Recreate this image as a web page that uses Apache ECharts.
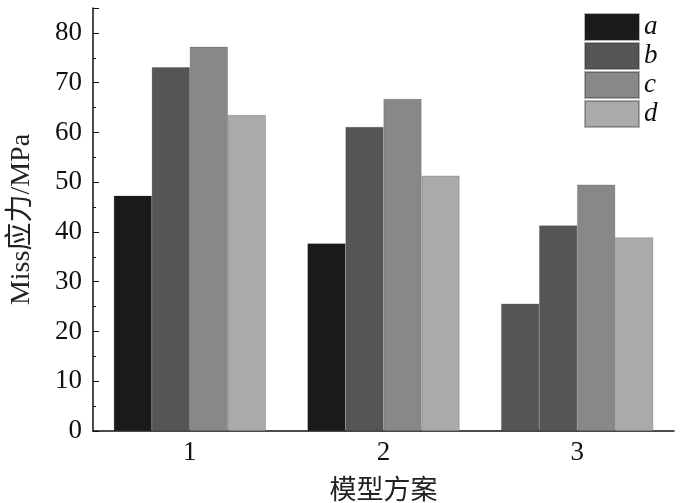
<!DOCTYPE html>
<html>
<head>
<meta charset="utf-8">
<script src="https://cdn.jsdelivr.net/npm/echarts@6/dist/echarts.min.js"></script>
<style>
  html, body { margin: 0; padding: 0; background: #fff; }
  #chart { width: 700px; height: 503px; }
</style>
</head>
<body>
<div id="chart"></div>
<script>
// 模型方案
var categories = ['1', '2', '3']
var seriesNames = ['a', 'b', 'c', 'd']
var valuesA = [47.3, 37.7, 25.6]
var valuesB = [73.1, 61.1, 41.3]
var valuesC = [77.2, 66.7, 49.5]
var valuesD = [63.5, 51.3, 38.9]
var yTicks = [0, 10, 20, 30, 40, 50, 60, 70, 80]

var colors = ['#1a1a1a', '#555555', '#888888', '#aaaaaa']
var serif = '"Liberation Serif", "Times New Roman", "Noto Sans CJK SC", serif'

var allValues = [valuesA, valuesB, valuesC, valuesD]

var chart = echarts.init(document.getElementById('chart'))

var series = seriesNames.map(function(name, i) {
  var data = allValues[i].map(function(v, j) {
    // 原图中方案3的 a 柱用了 b 的颜色
    if (i === 0 && j === 2) {
      return { value: v, itemStyle: { color: colors[1] } }
    }
    return v
  })
  return {
    name: name,
    type: 'bar',
    data: data,
    barGap: '0%',
    barCategoryGap: '21.5%',
    itemStyle: {
      color: colors[i],
      borderColor: 'rgba(40,40,40,0.35)',
      borderWidth: 0.6
    }
  }
})

var option = {
  animation: false,
  backgroundColor: '#fff',
  grid: {
    left: 93,
    right: 26,
    top: 8,
    bottom: 72,
    outerBoundsMode: 'none'
  },
  legend: {
    data: seriesNames,
    orient: 'vertical',
    left: 584,
    top: 13,
    padding: 0,
    itemWidth: 54,
    itemHeight: 26,
    itemGap: 1,
    icon: 'rect',
    textStyle: {
      fontFamily: serif,
      fontStyle: 'italic',
      fontSize: 27,
      lineHeight: 26,
      color: '#111'
    }
  },
  xAxis: {
    type: 'category',
    data: categories,
    name: '模型方案',
    nameLocation: 'middle',
    nameGap: 47,
    nameTextStyle: {
      fontFamily: serif,
      fontSize: 27,
      color: '#222'
    },
    axisLine: { lineStyle: { color: '#111', width: 1.5 } },
    axisTick: { inside: true, length: 5, lineStyle: { color: '#111' } },
    axisLabel: {
      margin: 8,
      fontFamily: serif,
      fontSize: 27,
      color: '#111'
    }
  },
  yAxis: {
    type: 'value',
    min: yTicks[0],
    max: 85,
    interval: 10,
    name: 'Miss应力/MPa',
    nameLocation: 'middle',
    nameGap: 57,
    nameRotate: 90,
    nameTextStyle: {
      fontFamily: serif,
      fontSize: 28,
      color: '#222'
    },
    splitLine: { show: false },
    axisLine: { show: true, lineStyle: { color: '#111', width: 1.5 } },
    axisTick: { show: true, inside: true, length: 6, lineStyle: { color: '#111' } },
    minorTick: { show: true, splitNumber: 2, length: 3, lineStyle: { color: '#111' } },
    axisLabel: {
      margin: 11,
      fontFamily: serif,
      fontSize: 27,
      color: '#111',
      formatter: function(v) {
        return yTicks.indexOf(v) >= 0 ? String(v) : ''
      }
    }
  },
  series: series
}

chart.setOption(option)
</script>
</body>
</html>
